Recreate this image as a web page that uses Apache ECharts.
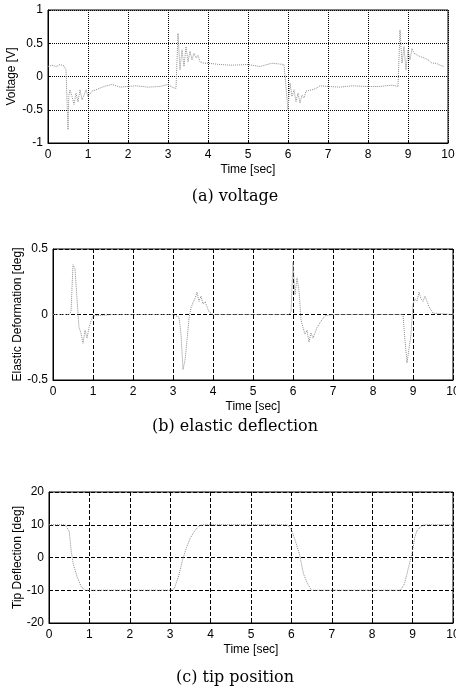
<!DOCTYPE html>
<html>
<head>
<meta charset="utf-8">
<script src="https://cdn.jsdelivr.net/npm/echarts@6/dist/echarts.min.js"></script>
<style>
html,body{margin:0;padding:0;background:#fff;}
#chart{width:456px;height:691px;}
</style>
</head>
<body>
<div id="chart"></div>
<script>
// (a) voltage
var voltT=[0,0.1,0.2,0.3,0.4,0.45,0.5,0.52,0.55,0.6,0.65,0.7,0.75,0.8,0.85,0.9,0.95,1.0,1.1,1.2,1.4,1.6,1.8,2.0,2.2,2.5,2.8,3.0,3.1,3.2,3.25,3.3,3.35,3.4,3.45,3.5,3.55,3.6,3.65,3.7,3.75,3.8,3.9,4.0,4.3,4.6,5.0,5.3,5.6,5.9,5.95,6.0,6.05,6.1,6.15,6.2,6.25,6.3,6.35,6.4,6.45,6.5,6.6,6.7,6.8,7.0,7.3,7.6,8.0,8.3,8.6,8.75,8.8,8.85,8.9,8.95,9.0,9.05,9.1,9.15,9.2,9.3,9.4,9.5,9.6,9.7,9.8,9.9];
var voltV=[0.15,0.17,0.15,0.18,0.16,0.1,-0.8,-0.3,-0.2,-0.3,-0.42,-0.25,-0.38,-0.2,-0.35,-0.28,-0.2,-0.3,-0.22,-0.2,-0.15,-0.12,-0.16,-0.15,-0.14,-0.16,-0.15,-0.12,-0.16,-0.18,0.65,0.1,0.4,0.15,0.45,0.22,0.38,0.25,0.35,0.28,0.32,0.22,0.2,0.2,0.18,0.17,0.18,0.15,0.2,0.18,0.15,-0.5,-0.1,-0.3,-0.2,-0.38,-0.25,-0.4,-0.28,-0.32,-0.22,-0.25,-0.2,-0.18,-0.14,-0.15,-0.16,-0.14,-0.15,-0.15,-0.13,-0.15,0.7,0.2,0.45,0.1,0.4,0.25,0.42,0.35,0.38,0.3,0.28,0.25,0.2,0.2,0.17,0.15];
// (b) elastic deflection
var elasT=[0,0.4,0.45,0.5,0.55,0.6,0.65,0.7,0.75,0.8,0.85,0.9,0.95,1.0,1.5,2.0,2.5,3.0,3.15,3.2,3.25,3.3,3.35,3.4,3.45,3.5,3.55,3.6,3.65,3.7,3.75,3.8,3.9,4.0,5.0,5.9,5.95,6.0,6.05,6.1,6.15,6.2,6.25,6.3,6.35,6.4,6.45,6.5,6.6,6.7,6.8,7.0,8.0,8.75,8.8,8.85,8.9,8.95,9.0,9.05,9.1,9.15,9.2,9.25,9.3,9.4,9.5,10];
var elasV=[0,0,0.02,0.38,0.35,0.12,-0.1,-0.14,-0.22,-0.12,-0.18,-0.1,-0.05,-0.01,0,0,0,0,-0.02,-0.15,-0.42,-0.35,-0.2,-0.03,0.05,0.09,0.12,0.17,0.1,0.14,0.08,0.1,0.02,0,0,0,0.02,0.4,0.15,0.28,0.18,-0.04,-0.1,-0.15,-0.12,-0.21,-0.14,-0.18,-0.1,-0.05,-0.01,0,0,0,-0.2,-0.37,-0.37,-0.15,0.08,0.12,0.1,0.17,0.12,0.1,0.14,0.06,0.01,0];
// (c) tip position
var tipT=[0,0.4,0.5,0.55,0.6,0.7,0.8,0.9,1.0,2.0,3.0,3.1,3.2,3.3,3.4,3.5,3.6,3.7,3.8,3.9,5.0,5.9,6.0,6.1,6.2,6.3,6.4,6.5,7.0,8.0,8.7,8.8,8.9,9.0,9.05,9.1,9.2,9.3,10];
var tipV=[10,10,8,2,-2,-6,-9,-10,-10,-10,-10,-9.5,-6,-1,3,6,8,9.5,10,10,10,10,8.5,5,1,-5,-8,-10,-10,-10,-10,-8,-3,2,6,8,9.5,10,10];

var xName='Time [sec]';
var yNames=['Voltage [V]','Elastic Deformation [deg]','Tip Deflection [deg]'];
var captions=['(a) voltage','(b) elastic deflection','(c) tip position'];
var yRanges=[[-1,1,0.5],[-0.5,0.5,0.5],[-20,20,10]];

function pairs(t,v){
    var out=[];
    for(var i=0;i<t.length;i++)out.push([t[i],v[i]]);
    return out;
}

var grids=[
    {left:48,right:8,top:10,height:133},
    {left:53,right:3,top:249,height:131},
    {left:49,right:3,top:492,height:131}
];
var gridType=['dotted','dashed','dashed'];
var yGaps=[30,29,25];
var captionY=[197,427,678];

var xAxes=[],yAxes=[],series=[],graphics=[];
for(var k=0;k<3;k++){
    grids[k].show=true;
    grids[k].borderColor='#000';
    grids[k].borderWidth=1;
    grids[k].outerBoundsMode='none';
    grids[k].containLabel=false;
    xAxes.push({
        type:'value',gridIndex:k,min:0,max:10,interval:1,
        name:xName,nameLocation:'middle',nameGap:21,nameMoveOverlap:false,
        nameTextStyle:{fontFamily:'Liberation Sans',fontSize:12,color:'#000'},
        axisLine:{show:true,onZero:false,lineStyle:{color:'#000',width:1}},
        axisTick:{show:true,inside:true,length:3,lineStyle:{color:'#000'}},
        axisLabel:{fontFamily:'Liberation Sans',fontSize:12,color:'#000',margin:6},
        splitLine:{show:true,lineStyle:{color:'#000',width:1,type:gridType[k]}}
    });
    yAxes.push({
        type:'value',gridIndex:k,min:yRanges[k][0],max:yRanges[k][1],interval:yRanges[k][2],
        name:yNames[k],nameLocation:'middle',nameGap:yGaps[k],nameRotate:90,nameMoveOverlap:false,
        nameTextStyle:{fontFamily:'Liberation Sans',fontSize:12,color:'#000'},
        axisLine:{show:true,onZero:false,lineStyle:{color:'#000',width:1}},
        axisTick:{show:true,inside:true,length:3,lineStyle:{color:'#000'}},
        axisLabel:{fontFamily:'Liberation Sans',fontSize:12,color:'#000',margin:5},
        splitLine:{show:true,lineStyle:{color:'#000',width:1,type:gridType[k]}}
    });
    graphics.push({
        type:'text',x:235,y:captionY[k],
        style:{text:captions[k],fontFamily:'DejaVu Serif',fontSize:16,fill:'#000',
            textAlign:'center',textVerticalAlign:'middle'}
    });
}
series.push({type:'line',xAxisIndex:0,yAxisIndex:0,data:pairs(voltT,voltV)});
series.push({type:'line',xAxisIndex:1,yAxisIndex:1,data:pairs(elasT,elasV)});
series.push({type:'line',xAxisIndex:2,yAxisIndex:2,data:pairs(tipT,tipV)});
for(var s=0;s<series.length;s++){
    series[s].showSymbol=false;
    series[s].animation=false;
    series[s].lineStyle={color:'#8a8a8a',width:1,type:'dotted'};
}

var chart=echarts.init(document.getElementById('chart'));
chart.setOption({
    animation:false,
    grid:grids,
    xAxis:xAxes,
    yAxis:yAxes,
    series:series,
    graphic:graphics
});
</script>
</body>
</html>
